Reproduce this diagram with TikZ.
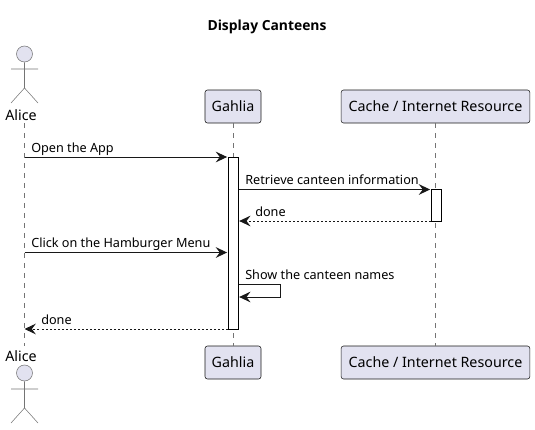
\documentclass[tikz,border=0pt]{standalone}
\usepackage{fontspec}
\setmainfont{Noto Sans}
\newfontfamily\titlefont{Open Sans}
\usetikzlibrary{arrows.meta,positioning,calc}
\definecolor{partfill}{HTML}{E2E2F0}
\definecolor{partline}{HTML}{181818}
\begin{document}
\begin{tikzpicture}[x=0.75pt,y=-0.75pt,>={Stealth[length=8.5pt,width=8pt,inset=3pt]},font=\fontsize{9.5pt}{12pt}\selectfont,
 part/.style={draw=partline,line width=0.4pt,fill=partfill,rounded corners=1.8pt,minimum height=24.75pt,inner xsep=0pt,inner ysep=0pt,font=\fontsize{10.7pt}{12pt}\selectfont},
 actorlabel/.style={inner sep=0pt,minimum height=12pt,font=\fontsize{10.7pt}{12pt}\selectfont},
 bar/.style={draw=black,line width=0.75pt,fill=white,minimum width=7.5pt,inner sep=0pt},
 life/.style={draw=partline!60,line width=0.4pt,dash pattern=on 3.75pt off 3.75pt},
 stick/.style={draw=partline!60,line width=0.4pt},
 msg/.style={->,draw=partline,line width=0.75pt},
 reply/.style={->,draw=partline,line width=0.75pt,densely dashed,dash pattern=on 1.5pt off 1.5pt},
 txt/.style={anchor=base west,inner sep=0pt}]
\useasboundingbox (0,0) rectangle (535,429);
\node[font=\titlefont\fontsize{10.4pt}{12pt}\selectfont\bfseries,inner sep=0pt] (title) at (267,26.5) {Display Canteens};
% participants
\node[actorlabel] (aliceTop) at (21,115) {Alice};
\node[actorlabel] (aliceBot) at (21,356) {Alice};
\node[part,minimum width=42pt] (gahliaTop) at (233,106.5) {Gahlia};
\node[part,minimum width=42pt] (gahliaBot) at (233,362.5) {Gahlia};
\node[part,minimum width=141.5pt] (cacheTop) at (435.5,106.5) {Cache / Internet Resource};
\node[part,minimum width=141.5pt] (cacheBot) at (435.5,362.5) {Cache / Internet Resource};
% lifelines
\coordinate (lifeTop) at (24.5,123);
\coordinate (lifeBot) at (24.5,346);
\draw[life] (lifeTop) -- (lifeBot);
\draw[life] (gahliaTop.south) -- (gahliaBot.north);
\draw[life] (cacheTop.south) -- (cacheBot.north);
% actors
\node[circle,draw=partline!60,line width=0.4pt,fill=partfill,minimum size=12pt,inner sep=0pt] (headTop) at (24.5,54) {};
\coordinate (armLTop) at (11,69); \coordinate (armRTop) at (38,69);
\coordinate (hipTop) at (24.5,88);
\coordinate (legLTop) at (11,103); \coordinate (legRTop) at (38,103);
\draw[stick] (headTop) -- (hipTop) (armLTop) -- (armRTop) (legLTop) -- (hipTop) -- (legRTop);
\node[circle,draw=partline!60,line width=0.4pt,fill=partfill,minimum size=12pt,inner sep=0pt] (headBot) at (24.5,373) {};
\coordinate (armLBot) at (11,389); \coordinate (armRBot) at (38,389);
\coordinate (hipBot) at (24.5,408);
\coordinate (legLBot) at (11,423); \coordinate (legRBot) at (38,423);
\draw[stick] (headBot) -- (hipBot) (armLBot) -- (armRBot) (legLBot) -- (hipBot) -- (legRBot);
% activations
\node[bar,minimum height=129pt] (barGahlia) at (233,243) {};
\node[bar,minimum height=24pt] (barCache) at (436,205) {};
% messages
\coordinate (m1) at (24.5,157);
\coordinate (m4) at (24.5,252.5);
\coordinate (m6) at (24.5,329);
\coordinate (selfA) at (280.5,284.5);
\coordinate (selfB) at (280.5,297);
\draw[msg,shorten >=0.3pt] (m1) -- (barGahlia.west |- m1);
\draw[msg,shorten >=0.3pt] (barGahlia.east |- 0,189.5) -- (barCache.west |- 0,189.5);
\draw[reply,shorten >=0.5pt] (barCache.west |- 0,221) -- (barGahlia.east |- 0,221);
\draw[msg,shorten >=0.3pt] (m4) -- (barGahlia.west |- m4);
\draw[msg,shorten >=0.5pt] (barGahlia.east |- selfA) -- (selfA) -- (selfB) -- (barGahlia.east |- selfB);
\draw[reply] (barGahlia.west |- m6) -- (m6);
% labels
\node[txt] (lab1) at (31,152) {Open the App};
\node[txt] (lab2) at (245,184) {Retrieve canteen information};
\node[txt] (lab3) at (255,216) {done};
\node[txt] (lab4) at (31,247) {Click on the Hamburger Menu};
\node[txt] (lab5) at (245,279) {Show the canteen names};
\node[txt] (lab6) at (41,324) {done};
\end{tikzpicture}
\end{document}
